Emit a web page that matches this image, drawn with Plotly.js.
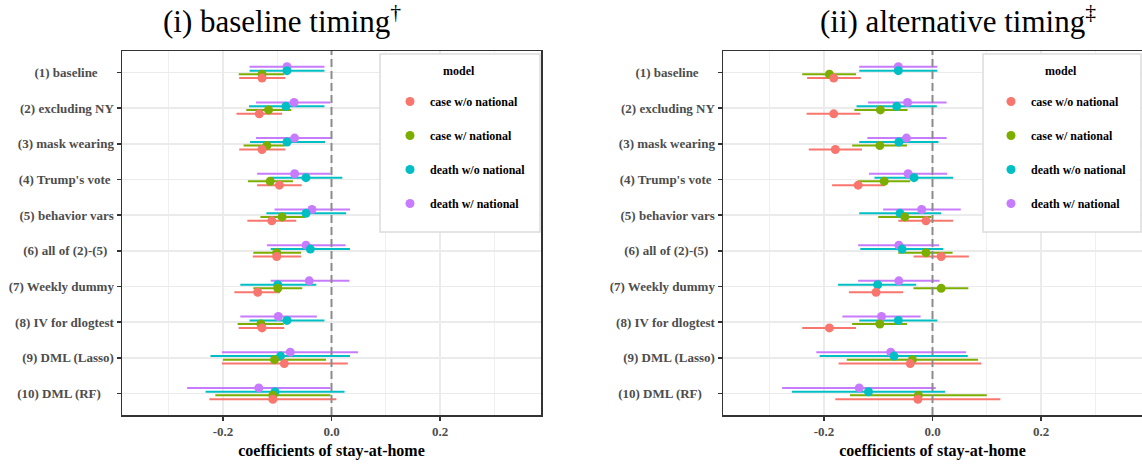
<!DOCTYPE html>
<html>
<head>
<meta charset="utf-8">
<script src="https://cdn.plot.ly/plotly-3.0.1.min.js"></script>
<style>html,body{margin:0;padding:0;background:#fff;}#chart{width:1142px;height:466px;}</style>
</head>
<body>
<div id="chart"></div>
<script>
// ---------- data ----------
const categories = ["(1) baseline", "(2) excluding NY", "(3) mask wearing", "(4) Trump's vote",
  "(5) behavior vars", "(6) all of (2)-(5)", "(7) Weekly dummy", "(8) IV for dlogtest",
  "(9) DML (Lasso)", "(10) DML (RF)"];
const seriesNames = ["case w/o national", "case w/ national", "death w/o national", "death w/ national"];
const xTickVals = [-0.2, 0.0, 0.2];
const xTickText = ["-0.2", "0.0", "0.2"];

// (i) baseline timing
const baseCaseWoEst = [-0.128, -0.133, -0.128, -0.096, -0.110, -0.101, -0.136, -0.128, -0.087, -0.108];
const baseCaseWoLo  = [-0.170, -0.175, -0.170, -0.137, -0.155, -0.145, -0.179, -0.171, -0.202, -0.225];
const baseCaseWoHi  = [-0.085, -0.091, -0.085, -0.055, -0.065, -0.056, -0.095, -0.087, 0.030, 0.009];
const baseCaseWEst  = [-0.128, -0.116, -0.119, -0.113, -0.091, -0.101, -0.099, -0.130, -0.105, -0.108];
const baseCaseWLo   = [-0.171, -0.157, -0.162, -0.154, -0.131, -0.144, -0.144, -0.173, -0.200, -0.214];
const baseCaseWHi   = [-0.087, -0.074, -0.086, -0.071, -0.048, -0.056, -0.054, -0.088, -0.010, -0.002];
const baseDeathWoEst = [-0.082, -0.084, -0.082, -0.047, -0.047, -0.039, -0.099, -0.082, -0.094, -0.104];
const baseDeathWoLo  = [-0.151, -0.152, -0.150, -0.112, -0.120, -0.112, -0.168, -0.151, -0.223, -0.232];
const baseDeathWoHi  = [-0.013, -0.013, -0.012, 0.020, 0.027, 0.034, -0.028, -0.013, 0.034, 0.024];
const baseDeathWEst  = [-0.082, -0.069, -0.068, -0.068, -0.036, -0.047, -0.041, -0.098, -0.076, -0.134];
const baseDeathWLo   = [-0.151, -0.139, -0.139, -0.137, -0.105, -0.119, -0.112, -0.168, -0.202, -0.266];
const baseDeathWHi   = [-0.013, -0.002, 0.000, -0.002, 0.034, 0.026, 0.033, -0.027, 0.049, -0.002];

// (ii) alternative timing
const altCaseWoEst = [-0.182, -0.182, -0.179, -0.137, -0.012, 0.016, -0.104, -0.190, -0.041, -0.027];
const altCaseWoLo  = [-0.231, -0.232, -0.228, -0.185, -0.063, -0.035, -0.154, -0.240, -0.173, -0.179];
const altCaseWoHi  = [-0.132, -0.133, -0.130, -0.088, 0.038, 0.067, -0.054, -0.141, 0.090, 0.125];
const altCaseWEst  = [-0.190, -0.096, -0.097, -0.089, -0.051, -0.012, 0.016, -0.097, -0.037, -0.026];
const altCaseWLo   = [-0.240, -0.144, -0.148, -0.138, -0.100, -0.063, -0.035, -0.148, -0.158, -0.152];
const altCaseWHi   = [-0.141, -0.046, -0.047, -0.041, -0.002, 0.037, 0.066, -0.047, 0.084, 0.100];
const altDeathWoEst = [-0.063, -0.066, -0.062, -0.034, -0.060, -0.056, -0.101, -0.063, -0.071, -0.118];
const altDeathWoLo  = [-0.135, -0.140, -0.135, -0.107, -0.135, -0.133, -0.174, -0.135, -0.208, -0.259];
const altDeathWoHi  = [0.009, 0.008, 0.011, 0.038, 0.016, 0.020, -0.030, 0.009, 0.065, 0.023];
const altDeathWEst  = [-0.063, -0.046, -0.048, -0.045, -0.020, -0.062, -0.062, -0.094, -0.077, -0.135];
const altDeathWLo   = [-0.135, -0.119, -0.120, -0.117, -0.091, -0.137, -0.137, -0.166, -0.214, -0.277];
const altDeathWHi   = [0.009, 0.026, 0.026, 0.027, 0.052, 0.012, 0.013, -0.022, 0.062, 0.006];

// ---------- styling ----------
const W = 1142, H = 466;
const px = v => v / W, py = v => 1 - v / H;
const colors = ["#F8766D", "#7CAE00", "#00BFC4", "#C77CFF"];
const dodge = [0.16, 0.05, -0.05, -0.16];
const labelPad = [5, 0, 0, 1, 0, 2, 0, 0, 0, 4];
const serif = "Liberation Serif, Times New Roman, serif";
const rowIdx = categories.map((c, i) => i + 1);
const tickText = categories.map((c, i) => c + "\u00a0".repeat(labelPad[i]));

const panels = [
  {xa: "x", ya: "y", legend: "legend", series: [
    [baseCaseWoEst, baseCaseWoLo, baseCaseWoHi],
    [baseCaseWEst, baseCaseWLo, baseCaseWHi],
    [baseDeathWoEst, baseDeathWoLo, baseDeathWoHi],
    [baseDeathWEst, baseDeathWLo, baseDeathWHi]]},
  {xa: "x2", ya: "y2", legend: "legend2", series: [
    [altCaseWoEst, altCaseWoLo, altCaseWoHi],
    [altCaseWEst, altCaseWLo, altCaseWHi],
    [altDeathWoEst, altDeathWoLo, altDeathWoHi],
    [altDeathWEst, altDeathWLo, altDeathWHi]]}
];

const drawOrder = [3, 2, 1, 0];
const traces = [];
panels.forEach((p, pi) => {
  // error bars first
  drawOrder.forEach(s => {
    const [est, lo, hi] = p.series[s];
    traces.push({
      type: "scatter", mode: "markers", xaxis: p.xa, yaxis: p.ya,
      x: est, y: rowIdx.map(r => r + dodge[s]),
      marker: {size: 2, opacity: 0, color: colors[s]},
      error_x: {type: "data", symmetric: false,
        array: hi.map((h, i) => h - est[i]), arrayminus: lo.map((l, i) => est[i] - l),
        color: colors[s], thickness: 2, width: 0},
      showlegend: false, hoverinfo: "skip"
    });
  });
  // points
  drawOrder.forEach(s => {
    const [est] = p.series[s];
    traces.push({
      type: "scatter", mode: "markers", xaxis: p.xa, yaxis: p.ya,
      x: est, y: rowIdx.map(r => r + dodge[s]),
      name: seriesNames[s], legend: p.legend, legendgroup: "g" + pi + s, legendrank: s + 1,
      marker: {size: 9, color: colors[s]},
      showlegend: true
    });
  });
});

function xAxis(domain) {
  return {
    domain: domain, range: [-0.386, 0.386], tickmode: "array",
    tickvals: xTickVals, ticktext: xTickText,
    ticks: "outside", ticklen: 4, tickwidth: 1.5, tickcolor: "#333",
    showline: true, linecolor: "#333", linewidth: 1.5, mirror: true,
    showgrid: true, gridcolor: "#ebebeb", gridwidth: 1.6, zeroline: false,
    minor: {tickmode: "linear", tick0: 0, dtick: 0.1, showgrid: true, gridcolor: "#f0f0f0", gridwidth: 1, ticks: ""},
    tickfont: {family: serif, size: 13, color: "#4d4d4d", weight: "bold"},
    title: {text: "coefficients of stay-at-home", standoff: 6,
      font: {family: serif, size: 16, color: "#000", weight: "bold"}}
  };
}
function yAxis(anchor) {
  return {
    domain: [py(415), py(51)], range: [10.6, 0.4], anchor: anchor,
    tickmode: "array", tickvals: rowIdx, ticktext: tickText,
    ticks: "outside", ticklen: 4, tickwidth: 1.5, tickcolor: "#333",
    showline: true, linecolor: "#333", linewidth: 1.5, mirror: true,
    showgrid: true, gridcolor: "#ebebeb", gridwidth: 1.6, zeroline: false,
    tickfont: {family: serif, size: 13, color: "#4d4d4d", weight: "bold"}
  };
}
function legendCfg(xpx) {
  return {
    x: px(xpx), y: py(87), xanchor: "left", yanchor: "top",
    bgcolor: "rgba(0,0,0,0)", borderwidth: 0,
    traceorder: "grouped", tracegroupgap: 15,
    font: {family: serif, size: 12, color: "#000", weight: "bold"}
  };
}

const layout = {
  width: W, height: H, margin: {l: 0, r: 0, t: 0, b: 0},
  paper_bgcolor: "#fff", plot_bgcolor: "#fff",
  xaxis: Object.assign(xAxis([px(122), px(541)]), {anchor: "y"}),
  yaxis: yAxis("x"),
  xaxis2: Object.assign(xAxis([px(723), 1]), {anchor: "y2"}),
  yaxis2: yAxis("x2"),
  legend: legendCfg(390),
  legend2: legendCfg(991),
  shapes: [
    {type: "line", xref: "x", yref: "y domain", x0: 0, x1: 0, y0: 0, y1: 1, layer: "above",
      line: {color: "#8c8c8c", width: 2, dash: "8px,4px"}},
    {type: "line", xref: "x2", yref: "y2 domain", x0: 0, x1: 0, y0: 0, y1: 1, layer: "above",
      line: {color: "#8c8c8c", width: 2, dash: "8px,4px"}},
    {type: "rect", xref: "paper", yref: "paper", x0: px(380), x1: px(540), y0: py(232), y1: py(54),
      layer: "above", fillcolor: "#fff", line: {color: "#dcdcdc", width: 1.5}},
    {type: "rect", xref: "paper", yref: "paper", x0: px(983), x1: px(1141), y0: py(232), y1: py(54),
      layer: "above", fillcolor: "#fff", line: {color: "#dcdcdc", width: 1.5}}
  ],
  annotations: [
    {xref: "paper", yref: "paper", x: px(282), y: py(20), xanchor: "center", yanchor: "middle",
      showarrow: false, text: "(i) baseline timing<sup>†</sup>", font: {family: serif, size: 31, color: "#000"}},
    {xref: "paper", yref: "paper", x: px(958), y: py(20), xanchor: "center", yanchor: "middle",
      showarrow: false, text: "(ii) alternative timing<sup>‡</sup>", font: {family: serif, size: 31, color: "#000"}},
    {xref: "paper", yref: "paper", x: px(459), y: py(71), xanchor: "center", yanchor: "middle",
      showarrow: false, text: "model", font: {family: serif, size: 12, color: "#000", weight: "bold"}},
    {xref: "paper", yref: "paper", x: px(1061), y: py(71), xanchor: "center", yanchor: "middle",
      showarrow: false, text: "model", font: {family: serif, size: 12, color: "#000", weight: "bold"}}
  ]
};

Plotly.newPlot("chart", traces, layout, {displayModeBar: false, staticPlot: true});
</script>
</body>
</html>
